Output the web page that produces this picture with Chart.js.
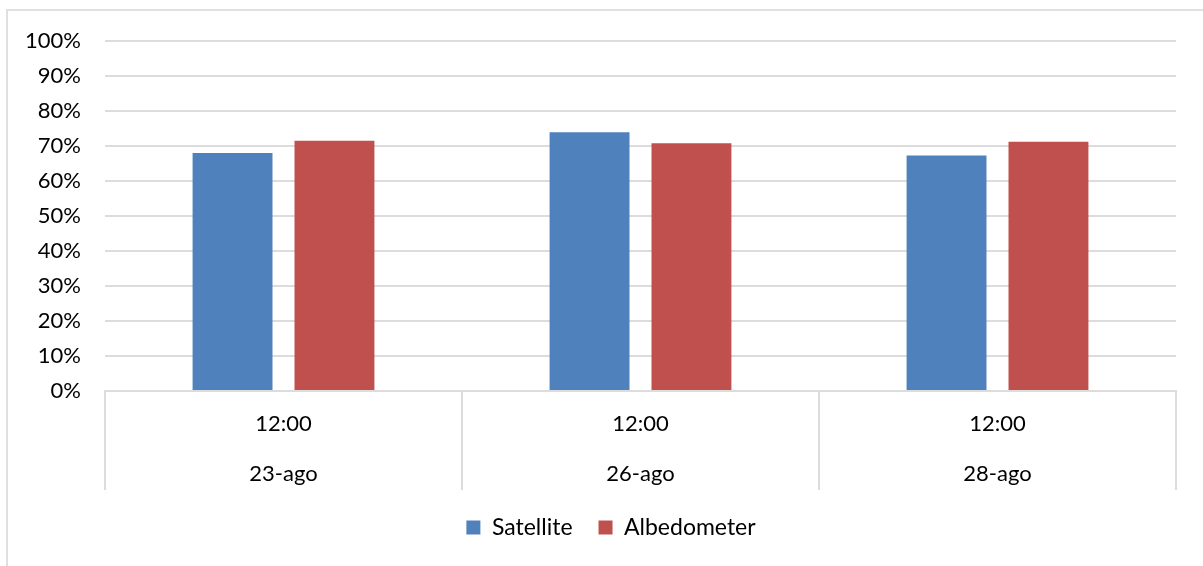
<!DOCTYPE html>
<html>
<head>
<meta charset="utf-8">
<title>Satellite vs Albedometer</title>
<script src="https://cdn.jsdelivr.net/npm/chart.js@4/dist/chart.umd.min.js"></script>
<style>
  html, body { margin: 0; padding: 0; background: #ffffff; }
  #wrap { width: 1203px; height: 566px; }
</style>
</head>
<body>
<div id="wrap"><canvas id="chart" width="1203" height="566"></canvas></div>
<script>
// Measurement time and day for each category (two label rows)
const times = ['12:00', '12:00', '12:00'];
const days = ['23-ago', '26-ago', '28-ago'];

// Albedo values, in percent
const satellite = [68.0, 73.9, 67.3];
const albedometer = [71.5, 70.8, 71.2];

// Y axis ticks
const yMin = 0;
const yMax = 100;
const yStep = 10;

const GRID = '#dcdcdc';
const FONT = 'Lato, "Open Sans", "DejaVu Sans", sans-serif';

// Light frame around the chart, as in office-style chart objects
const framePlugin = {
  id: 'frame',
  beforeDraw(chart) {
    const ctx = chart.ctx;
    ctx.save();
    ctx.strokeStyle = '#e0e0e0';
    ctx.lineWidth = 2;
    ctx.beginPath();
    ctx.moveTo(7, chart.height);
    ctx.lineTo(7, 10);
    ctx.lineTo(chart.width, 10);
    ctx.stroke();
    ctx.restore();
  }
};

// Centre the legend under the middle of the whole chart object rather than the layout box
const legendShift = {
  id: 'legendShift',
  afterLayout(chart) {
    const lg = chart.legend;
    if (!lg) return;
    const dx = 23;
    lg.left += dx;
    lg.right += dx;
    (lg.legendHitBoxes || []).forEach(b => { b.left += dx; });
  }
};

new Chart(document.getElementById('chart'), {
  type: 'bar',
  data: {
    labels: times.map((t, i) => [t, days[i]]),
    datasets: [
      {
        label: 'Satellite',
        data: satellite,
        backgroundColor: '#4f81bd',
        borderWidth: 0
      },
      {
        label: 'Albedometer',
        data: albedometer,
        backgroundColor: '#c0504d',
        borderWidth: 0
      }
    ]
  },
  options: {
    responsive: false,
    maintainAspectRatio: false,
    devicePixelRatio: 1,
    animation: false,
    layout: { padding: { left: 0, right: 27, top: 41, bottom: 17 } },
    datasets: {
      bar: { categoryPercentage: 0.571, barPercentage: 0.784 }
    },
    scales: {
      x: {
        grid: {
          offset: true,
          drawOnChartArea: false,
          drawTicks: true,
          tickLength: 99,
          color: GRID,
          lineWidth: 2
        },
        border: { display: true, color: GRID, width: 2 },
        ticks: {
          padding: -91,
          color: '#000000',
          maxRotation: 0,
          font: { family: FONT, size: 22, lineHeight: 50 / 22 }
        },
        afterFit(scale) { scale.height = 99; }
      },
      y: {
        min: yMin,
        max: yMax,
        grid: { color: GRID, lineWidth: 2, drawTicks: false },
        border: { display: false },
        ticks: {
          stepSize: yStep,
          padding: 24,
          color: '#000000',
          font: { family: FONT, size: 22 },
          callback: v => v + '%'
        },
        afterFit(scale) { scale.width = 105; }
      }
    },
    plugins: {
      legend: {
        position: 'bottom',
        labels: {
          boxWidth: 14,
          boxHeight: 14,
          padding: 26,
          color: '#000000',
          font: { family: FONT, size: 23 }
        }
      },
      tooltip: { enabled: false }
    }
  },
  plugins: [framePlugin, legendShift]
});
</script>
</body>
</html>
